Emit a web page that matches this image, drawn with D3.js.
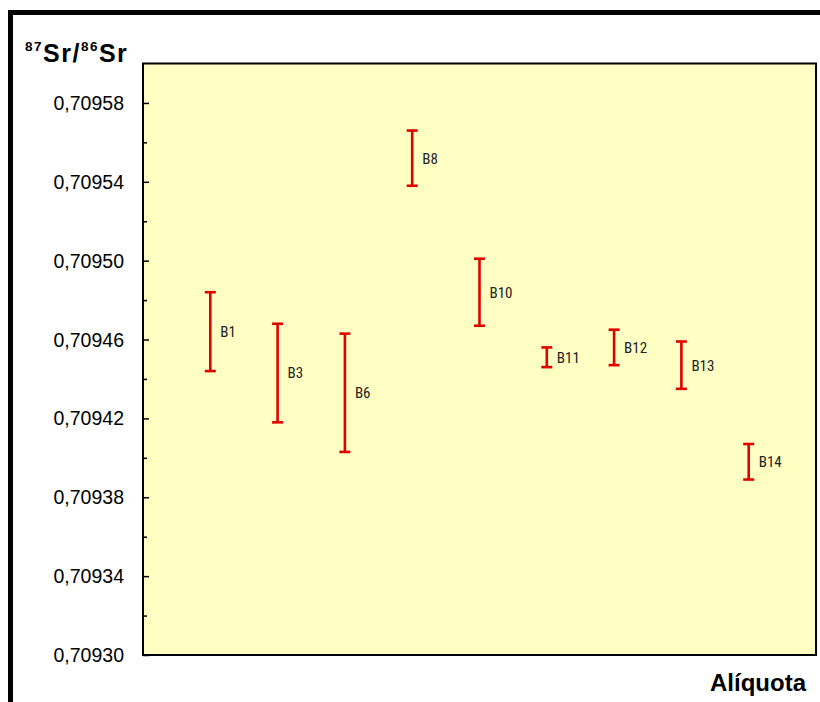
<!DOCTYPE html>
<html>
<head>
<meta charset="utf-8">
<script src="https://cdn.jsdelivr.net/npm/d3@7"></script>
<style>
  html, body { margin: 0; padding: 0; background: #fff; }
  svg { display: block; }
</style>
</head>
<body>
<svg id="chart" width="820" height="702"></svg>
<script>
// Sample aliquots and their 87Sr/86Sr ratios with uncertainty (±)
const samples = ["B1", "B3", "B6", "B8", "B10", "B11", "B12", "B13", "B14"];
const ratios  = [0.709464, 0.709443, 0.709433, 0.709552, 0.709484, 0.709451, 0.709456, 0.709447, 0.709398];
const errors  = [0.000020, 0.000025, 0.000030, 0.000014, 0.000017, 0.000005, 0.000009, 0.000012, 0.000009];
const yTickValues = [0.70930, 0.70934, 0.70938, 0.70942, 0.70946, 0.70950, 0.70954, 0.70958];
const yMinorValues = [0.70932, 0.70936, 0.70940, 0.70944, 0.70948, 0.70952, 0.70956];

const svg = d3.select("#chart");
const plot = { left: 143, top: 63.5, right: 816, bottom: 655 };

// Outer frame
svg.append("rect")
  .attr("x", 10.5).attr("y", 12.5)
  .attr("width", 830).attr("height", 720)
  .attr("fill", "none").attr("stroke", "#000").attr("stroke-width", 5);

const x = d3.scaleLinear().domain([0, samples.length + 1]).range([plot.left, plot.right]);
const y = d3.scaleLinear().domain([0.70930, 0.70960]).range([plot.bottom, plot.top]);

// Plot area
svg.append("rect")
  .attr("x", plot.left).attr("y", plot.top)
  .attr("width", plot.right - plot.left).attr("height", plot.bottom - plot.top)
  .attr("fill", "#ffffc4");

const fmt = d => d3.format(".5f")(d).replace(".", ",");

// Major ticks (drawn inward) with labels
const yAxis = d3.axisRight(y).tickValues(yTickValues).tickSize(6).tickFormat("");
const gAxis = svg.append("g").attr("transform", `translate(${plot.left},0)`).call(yAxis);
gAxis.select(".domain").remove();
gAxis.selectAll(".tick line").attr("stroke", "#000").attr("stroke-width", 1.5);

const yMinor = d3.axisRight(y).tickValues(yMinorValues).tickSize(4).tickFormat("");
const gMinor = svg.append("g").attr("transform", `translate(${plot.left},0)`).call(yMinor);
gMinor.select(".domain").remove();
gMinor.selectAll(".tick line").attr("stroke", "#000").attr("stroke-width", 1.5);

svg.append("g").selectAll("text").data(yTickValues).join("text")
  .attr("x", 124).attr("y", d => y(d)).attr("dy", "0.36em")
  .attr("text-anchor", "end")
  .attr("font-family", "Arial, 'Liberation Sans', sans-serif")
  .attr("font-size", 19.5)
  .attr("fill", "#000")
  .text(fmt);

// Plot border
svg.append("rect")
  .attr("x", plot.left).attr("y", plot.top)
  .attr("width", plot.right - plot.left).attr("height", plot.bottom - plot.top)
  .attr("fill", "none").attr("stroke", "#000").attr("stroke-width", 2);

// Error bars
const bars = svg.append("g").selectAll("g").data(samples).join("g")
  .attr("transform", (d, i) => `translate(${x(i + 1)},0)`);
const capW = 5.5;
bars.append("line")
  .attr("x1", 0).attr("x2", 0)
  .attr("y1", (d, i) => y(ratios[i] + errors[i]))
  .attr("y2", (d, i) => y(ratios[i] - errors[i]))
  .attr("stroke", "#e00000").attr("stroke-width", 2.6);
bars.append("line")
  .attr("x1", -capW).attr("x2", capW)
  .attr("y1", (d, i) => y(ratios[i] + errors[i]))
  .attr("y2", (d, i) => y(ratios[i] + errors[i]))
  .attr("stroke", "#e00000").attr("stroke-width", 2.6);
bars.append("line")
  .attr("x1", -capW).attr("x2", capW)
  .attr("y1", (d, i) => y(ratios[i] - errors[i]))
  .attr("y2", (d, i) => y(ratios[i] - errors[i]))
  .attr("stroke", "#e00000").attr("stroke-width", 2.6);
bars.append("text")
  .attr("x", 10).attr("y", (d, i) => y(ratios[i])).attr("dy", "0.36em")
  .attr("font-family", "'Liberation Sans Narrow', 'Roboto Condensed', Roboto, sans-serif")
  .attr("font-size", 15)
  .attr("fill", "#222")
  .text(d => d);

// Axis titles
const title = svg.append("text")
  .attr("x", 25).attr("y", 62)
  .attr("font-family", "Arial, 'Liberation Sans', sans-serif")
  .attr("font-weight", "bold")
  .attr("font-size", 25)
  .attr("letter-spacing", 1.5)
  .attr("fill", "#000");
title.append("tspan").attr("font-size", 13.5).attr("dy", -11).text("87");
title.append("tspan").attr("dy", 11).text("Sr/");
title.append("tspan").attr("font-size", 13.5).attr("dy", -11).text("86");
title.append("tspan").attr("dy", 11).text("Sr");

svg.append("text")
  .attr("x", 806).attr("y", 691)
  .attr("text-anchor", "end")
  .attr("font-family", "Arial, 'Liberation Sans', sans-serif")
  .attr("font-weight", "bold")
  .attr("font-size", 24)
  .attr("fill", "#000")
  .text("Alíquota");
</script>
</body>
</html>
